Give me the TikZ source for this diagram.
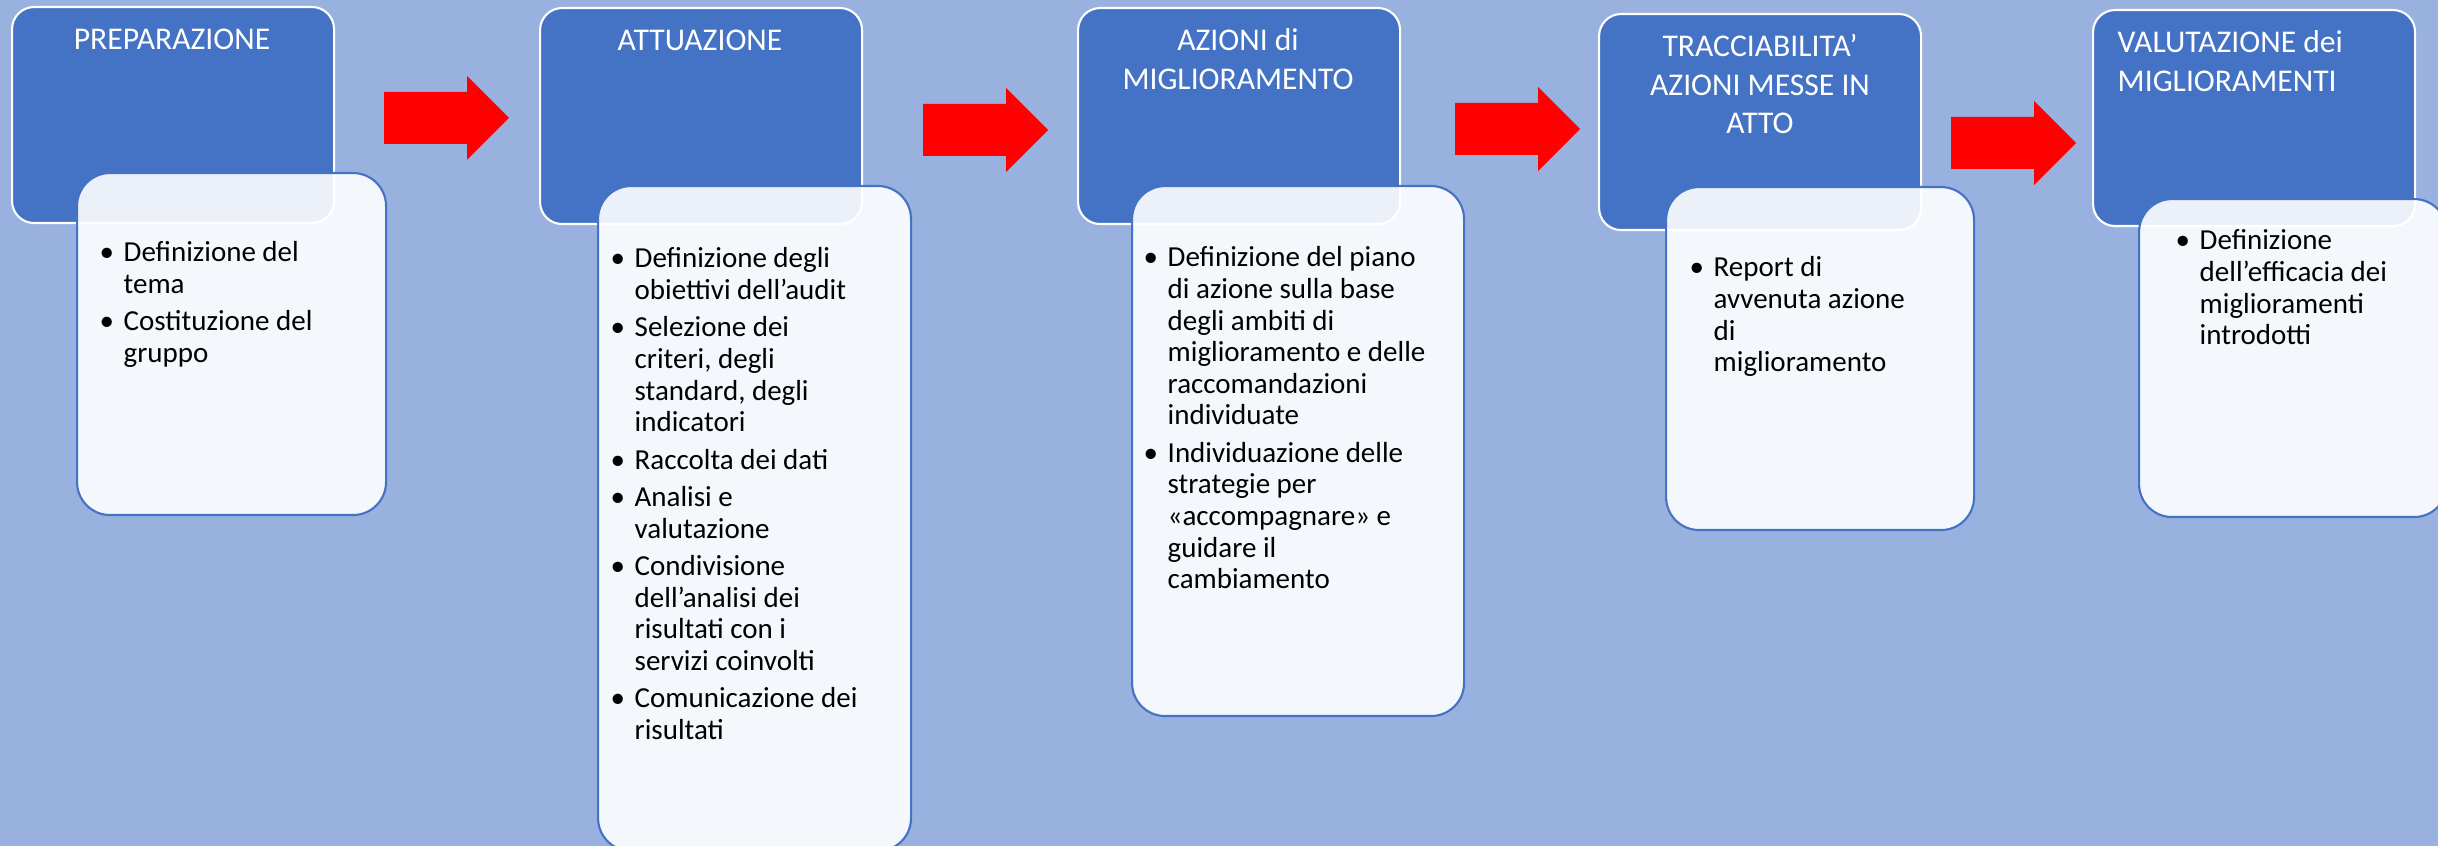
\documentclass[tikz,border=0pt]{standalone}
\usepackage{fontspec}
\setmainfont{Carlito}
\usepackage{xcolor}

\definecolor{accblue}{HTML}{4472C4}
\definecolor{arrowred}{HTML}{FF0000}
\colorlet{backblue}{accblue!55!white}

\newcommand{\bul}{\makebox[2.4mm][l]{\textbullet}}

\tikzset{
  phase/.style={draw=white, line width=0.6pt, fill=accblue, rounded corners=2.2mm,
    anchor=north west, inner sep=0, minimum width=32.2mm, minimum height=21.6mm},
  detail/.style={draw=accblue, line width=0.6pt, fill=white, fill opacity=0.9,
    rounded corners=3.3mm, anchor=north west, inner sep=0},
  heading/.style={text=white, inner sep=0, font=\fontsize{9}{10.95}\selectfont},
  bullets/.style={inner sep=0, anchor=base west, font=\fontsize{8.25}{8.99}\selectfont},
  blockarrow/.style={fill=arrowred},
}

\begin{document}
\begin{tikzpicture}[x=0.1mm, y=-0.1mm]
\useasboundingbox (0,0) rectangle (2438,846);
\fill[backblue] (0,0) rectangle (2438,846);
\clip (0,0) rectangle (2438,846);

% phases
\node[phase] (p1) at (11,6) {};
\node[phase] (p2) at (539,7) {};
\node[phase] (p3) at (1077,7) {};
\node[phase] (p4) at (1598,13) {};
\node[phase] (p5) at (2092,9) {};

\node[heading, anchor=base] (h1) at (172,50) {\begin{tabular}[t]{@{}c@{}}PREPARAZIONE\end{tabular}};
\node[heading, anchor=base] (h2) at (700,51) {\begin{tabular}[t]{@{}c@{}}ATTUAZIONE\end{tabular}};
\node[heading, anchor=base] (h3) at (1238,51) {\begin{tabular}[t]{@{}c@{}}AZIONI di\\ MIGLIORAMENTO\end{tabular}};
\node[heading, anchor=base] (h4) at (1760,57) {\begin{tabular}[t]{@{}c@{}}TRACCIABILITA’\\ AZIONI MESSE IN\\ ATTO\end{tabular}};
\node[heading, anchor=base west] (h5) at (2117,53) {\begin{tabular}[t]{@{}l@{}}VALUTAZIONE dei\\ MIGLIORAMENTI\end{tabular}};

% arrows
\fill[blockarrow, shift={(384,118)}] (0,-26) -- (83,-26) -- (83,-42) -- (125,0) -- (83,42) -- (83,26) -- (0,26) -- cycle;
\fill[blockarrow, shift={(923,130)}] (0,-26) -- (83,-26) -- (83,-42) -- (125,0) -- (83,42) -- (83,26) -- (0,26) -- cycle;
\fill[blockarrow, shift={(1455,129)}] (0,-26) -- (83,-26) -- (83,-42) -- (125,0) -- (83,42) -- (83,26) -- (0,26) -- cycle;
\fill[blockarrow, shift={(1951,143)}] (0,-26) -- (83,-26) -- (83,-42) -- (125,0) -- (83,42) -- (83,26) -- (0,26) -- cycle;

% details
\node[detail, minimum width=30.9mm, minimum height=34.2mm] (d1) at (76,172) {};
\node[detail, minimum width=31.3mm, minimum height=66.5mm] (d2) at (597,185) {};
\node[detail, minimum width=33.2mm, minimum height=53.0mm] (d3) at (1131,185) {};
\node[detail, minimum width=30.8mm, minimum height=34.3mm] (d4) at (1665,186) {};
\node[detail, minimum width=30.8mm, minimum height=31.8mm] (d5) at (2138,198) {};

\node[bullets] (t1) at (99,262) {\begin{tabular}[t]{@{}l@{}l@{}}
\bul & Definizione del\\
 & tema\\[1.65pt]
\bul & Costituzione del\\
 & gruppo
\end{tabular}};

\node[bullets] (t2) at (610,268) {\begin{tabular}[t]{@{}l@{}l@{}}
\bul & Definizione degli\\
 & obiettivi dell’audit\\[1.65pt]
\bul & Selezione dei\\
 & criteri, degli\\
 & standard, degli\\
 & indicatori\\[1.65pt]
\bul & Raccolta dei dati\\[1.65pt]
\bul & Analisi e\\
 & valutazione\\[1.65pt]
\bul & Condivisione\\
 & dell’analisi dei\\
 & risultati con i\\
 & servizi coinvolti\\[1.65pt]
\bul & Comunicazione dei\\
 & risultati
\end{tabular}};

\node[bullets] (t3) at (1143,267) {\begin{tabular}[t]{@{}l@{}l@{}}
\bul & Definizione del piano\\
 & di azione sulla base\\
 & degli ambiti di\\
 & miglioramento e delle\\
 & raccomandazioni\\
 & individuate\\[1.65pt]
\bul & Individuazione delle\\
 & strategie per\\
 & «accompagnare» e\\
 & guidare il\\
 & cambiamento
\end{tabular}};

\node[bullets] (t4) at (1689,277) {\begin{tabular}[t]{@{}l@{}l@{}}
\bul & Report di\\
 & avvenuta azione\\
 & di\\
 & miglioramento
\end{tabular}};

\node[bullets] (t5) at (2175,250) {\begin{tabular}[t]{@{}l@{}l@{}}
\bul & Definizione\\
 & dell’efficacia dei\\
 & miglioramenti\\
 & introdotti
\end{tabular}};
\end{tikzpicture}
\end{document}
